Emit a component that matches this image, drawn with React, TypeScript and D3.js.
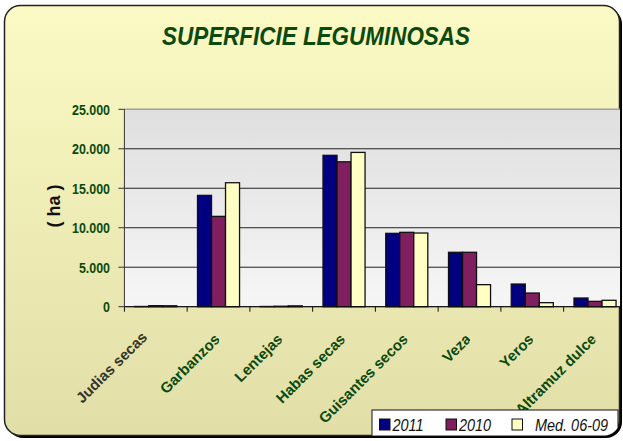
import React from 'react'
import * as d3 from 'd3'

const categories = [
  'Judias secas',
  'Garbanzos',
  'Lentejas',
  'Habas secas',
  'Guisantes secos',
  'Veza',
  'Yeros',
  'Altramuz dulce',
]
const seriesNames = ['2011', '2010', 'Med. 06-09']
const values2011 = [30, 14100, 30, 19170, 9290, 6890, 2870, 1100]
const values2010 = [130, 11440, 60, 18350, 9420, 6890, 1730, 680]
const valuesMed = [120, 15700, 110, 19540, 9330, 2790, 510, 810]
const yTicks = [0, 5000, 10000, 15000, 20000, 25000]

const seriesValues = [values2011, values2010, valuesMed]
const colors = ['#000080', '#7f1f5f', '#ffffc4']

const fmt = d3.formatLocale({
  decimal: ',',
  thousands: '.',
  grouping: [3],
  currency: ['', ''],
}).format(',')

const W = 623
const H = 441
const plot = { left: 124.4, right: 626.4, top: 109.3, bottom: 306.7 }
const green = '#0b4a0e'

const App: React.FC = () => {
  const x0 = d3
    .scaleBand<string>()
    .domain(categories)
    .range([plot.left, plot.right])
    .padding(0)
  const groupW = x0.bandwidth() * 0.67
  const x1 = d3
    .scaleBand<string>()
    .domain(seriesNames)
    .range([0, groupW])
    .padding(0)
  const y = d3
    .scaleLinear()
    .domain([0, 25000])
    .range([plot.bottom, plot.top])

  return (
    <svg
      width={W}
      height={H}
      style={{ position: 'absolute', left: 0, top: 0 }}
      fontFamily="'Liberation Sans', Arial, sans-serif"
    >
      <defs>
        <linearGradient id="bg" x1="0" y1="0" x2="0" y2="1">
          <stop offset="0" stopColor="#fcfac4" />
          <stop offset="1" stopColor="#e1dea8" />
        </linearGradient>
        <linearGradient id="pbg" x1="0" y1="0" x2="0" y2="1">
          <stop offset="0" stopColor="#dfdfdf" />
          <stop offset="1" stopColor="#f6f6f6" />
        </linearGradient>
        <clipPath id="outer">
          <rect x={5} y={5.5} width={615} height={430} rx={16} />
        </clipPath>
        {categories.map((c, i) => (
          <clipPath id={`lc${i}`} key={c}>
            <rect x={0} y={0} width={x0(c)! + x0.bandwidth() / 2 + 0.5} height={H} />
          </clipPath>
        ))}
      </defs>

      <rect x={7} y={8} width={615} height={430} rx={16} fill="#000" />
      <rect
        x={4.5}
        y={5.5}
        width={615}
        height={430}
        rx={16}
        fill="url(#bg)"
        stroke="#222"
        strokeWidth={1.5}
      />

      <text
        x={316}
        y={45}
        textAnchor="middle"
        fontSize={25}
        fontWeight="bold"
        fontStyle="italic"
        fill={green}
        textLength={308}
        lengthAdjust="spacingAndGlyphs"
      >
        SUPERFICIE LEGUMINOSAS
      </text>

      <g clipPath="url(#outer)">
        <rect
          x={plot.left}
          y={plot.top}
          width={plot.right - plot.left}
          height={plot.bottom - plot.top}
          fill="url(#pbg)"
        />
        {yTicks.map(t => (
          <line
            key={t}
            x1={plot.left}
            x2={plot.right}
            y1={y(t)}
            y2={y(t)}
            stroke={t === 25000 ? '#a0a0a0' : '#222'}
            strokeWidth={t === 25000 ? 1.5 : 1}
          />
        ))}
        {seriesValues.map((vals, s) => (
          <g key={seriesNames[s]}>
            {categories.map((c, i) => (
              <rect
                key={c}
                x={x0(c)! + (x0.bandwidth() - groupW) / 2 + x1(seriesNames[s])!}
                y={y(vals[i])}
                width={x1.bandwidth()}
                height={y(0) - y(vals[i])}
                fill={colors[s]}
                stroke="#111"
                strokeWidth={1.3}
              />
            ))}
          </g>
        ))}
        <line
          x1={plot.left}
          x2={plot.right}
          y1={plot.bottom}
          y2={plot.bottom}
          stroke="#111"
        />
        {categories.map(c => (
          <line
            key={c}
            x1={x0(c)!}
            x2={x0(c)!}
            y1={plot.bottom}
            y2={plot.bottom + 5}
            stroke="#111"
          />
        ))}
      </g>

      <line
        x1={plot.left}
        x2={plot.left}
        y1={plot.top}
        y2={plot.bottom}
        stroke="#333"
      />
      {yTicks.map(t => (
        <g key={t}>
          <line
            x1={plot.left - 6}
            x2={plot.left}
            y1={y(t)}
            y2={y(t)}
            stroke="#333"
          />
          <text
            transform={`translate(110,${y(t) + 5.5}) scale(0.83,1)`}
            textAnchor="end"
            fontSize={15}
            fontWeight="bold"
            fill={green}
          >
            {fmt(t)}
          </text>
        </g>
      ))}

      <text
        transform="translate(60,206) rotate(-90)"
        textAnchor="middle"
        fontSize={18}
        fontWeight="bold"
        fill="#111"
      >
        ( ha )
      </text>

      {categories.map((c, i) => {
        const cx = x0(c)! + x0.bandwidth() / 2
        const ax = i === 0 ? cx - 7.5 : cx + 2.5
        const ay = i === 0 ? 338 : 340
        return (
          <g key={c} clipPath={`url(#lc${i})`}>
            <text
              transform={`translate(${ax},${ay}) rotate(-45)`}
              textAnchor="end"
              fontSize={15}
              fontWeight="bold"
              fill={i === 0 ? '#33362a' : green}
            >
              {c}
            </text>
          </g>
        )
      })}

      <g clipPath="url(#outer)">
        <rect
          x={372}
          y={410}
          width={246}
          height={27}
          fill="#fff"
          stroke="#111"
          strokeWidth={1}
        />
        {seriesNames.map((s, i) => {
          const lx = [379.5, 446, 512][i]
          const tx = [392.5, 459, 535][i]
          return (
            <g key={s}>
              <rect
                x={lx}
                y={419}
                width={10.5}
                height={11}
                fill={colors[i]}
                stroke="#111"
                strokeWidth={1}
              />
              <text
                transform={`translate(${tx},431) scale(0.85,1)`}
                fontSize={17}
                fontStyle="italic"
                fill="#111"
              >
                {s}
              </text>
            </g>
          )
        })}
      </g>
    </svg>
  )
}

export default App
